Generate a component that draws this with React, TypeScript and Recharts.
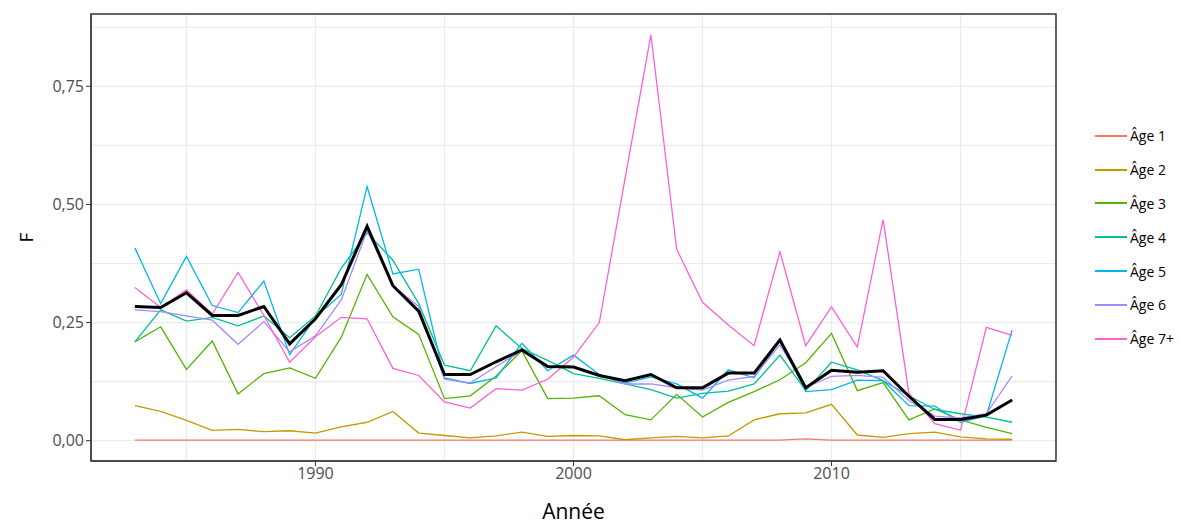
import { LineChart, Line, XAxis, YAxis, CartesianGrid, ReferenceArea } from 'recharts';

const years = [
  1983, 1984, 1985, 1986, 1987, 1988, 1989, 1990, 1991, 1992, 1993, 1994,
  1995, 1996, 1997, 1998, 1999, 2000, 2001, 2002, 2003, 2004, 2005, 2006,
  2007, 2008, 2009, 2010, 2011, 2012, 2013, 2014, 2015, 2016, 2017,
];

const age1 = [
  0.001, 0.001, 0.001, 0.001, 0.001, 0.001, 0.001, 0.001, 0.001, 0.001, 0.001, 0.001,
  0.001, 0.001, 0.001, 0.001, 0.001, 0.001, 0.001, 0.001, 0.001, 0.001, 0.001, 0.001,
  0.001, 0.001, 0.004, 0.001, 0.001, 0.001, 0.001, 0.001, 0.001, 0.001, 0.001,
];
const age2 = [
  0.074, 0.062, 0.043, 0.022, 0.024, 0.019, 0.021, 0.016, 0.029, 0.039, 0.062, 0.016,
  0.011, 0.006, 0.010, 0.018, 0.009, 0.011, 0.010, 0.002, 0.006, 0.009, 0.006, 0.010,
  0.044, 0.057, 0.059, 0.077, 0.012, 0.007, 0.015, 0.018, 0.008, 0.004, 0.003,
];
const age3 = [
  0.209, 0.241, 0.151, 0.211, 0.099, 0.142, 0.154, 0.132, 0.219, 0.352, 0.262, 0.225,
  0.089, 0.095, 0.137, 0.190, 0.089, 0.090, 0.095, 0.055, 0.044, 0.098, 0.050, 0.081,
  0.104, 0.129, 0.165, 0.227, 0.106, 0.123, 0.044, 0.067, 0.044, 0.028, 0.015,
];
const age4 = [
  0.209, 0.277, 0.253, 0.261, 0.243, 0.264, 0.218, 0.264, 0.365, 0.440, 0.382, 0.290,
  0.160, 0.148, 0.243, 0.195, 0.170, 0.142, 0.132, 0.120, 0.108, 0.090, 0.100, 0.105,
  0.120, 0.181, 0.106, 0.166, 0.150, 0.127, 0.095, 0.066, 0.057, 0.050, 0.039,
];
const age5 = [
  0.408, 0.290, 0.390, 0.286, 0.271, 0.338, 0.182, 0.261, 0.310, 0.538, 0.353, 0.363,
  0.133, 0.121, 0.133, 0.206, 0.148, 0.181, 0.140, 0.122, 0.135, 0.120, 0.090, 0.150,
  0.133, 0.212, 0.104, 0.108, 0.128, 0.127, 0.074, 0.073, 0.039, 0.053, 0.234,
];
const age6 = [
  0.277, 0.273, 0.264, 0.255, 0.204, 0.252, 0.188, 0.222, 0.298, 0.445, 0.328, 0.284,
  0.130, 0.122, 0.157, 0.190, 0.155, 0.156, 0.140, 0.120, 0.120, 0.112, 0.107, 0.128,
  0.136, 0.203, 0.113, 0.136, 0.138, 0.134, 0.085, 0.052, 0.048, 0.057, 0.137,
];
const age7 = [
  0.324, 0.282, 0.319, 0.268, 0.356, 0.265, 0.166, 0.220, 0.261, 0.258, 0.153, 0.138,
  0.082, 0.069, 0.110, 0.107, 0.130, 0.177, 0.250, 0.555, 0.859, 0.405, 0.293, 0.245,
  0.201, 0.400, 0.201, 0.283, 0.198, 0.468, 0.100, 0.036, 0.022, 0.240, 0.223,
];
const mean = [
  0.284, 0.282, 0.313, 0.265, 0.265, 0.284, 0.205, 0.258, 0.330, 0.454, 0.328, 0.274,
  0.140, 0.140, 0.167, 0.192, 0.157, 0.156, 0.138, 0.127, 0.140, 0.112, 0.112, 0.143,
  0.143, 0.213, 0.112, 0.149, 0.145, 0.148, 0.094, 0.045, 0.045, 0.054, 0.086,
];

const series = [
  { key: 'a1', name: 'Âge 1', color: '#F8766D', values: age1 },
  { key: 'a2', name: 'Âge 2', color: '#C49A00', values: age2 },
  { key: 'a3', name: 'Âge 3', color: '#53B400', values: age3 },
  { key: 'a4', name: 'Âge 4', color: '#00C094', values: age4 },
  { key: 'a5', name: 'Âge 5', color: '#00B6EB', values: age5 },
  { key: 'a6', name: 'Âge 6', color: '#A58AFF', values: age6 },
  { key: 'a7', name: 'Âge 7+', color: '#FB61D7', values: age7 },
];

const xTicks = [1990, 2000, 2010];
const yTicks = [0, 0.25, 0.5, 0.75];
const xGrid = [1985, 1990, 1995, 2000, 2005, 2010, 2015];
const yGrid = [0, 0.125, 0.25, 0.375, 0.5, 0.625, 0.75, 0.875];

const X_DOMAIN: [number, number] = [1981.3, 2018.7];
const Y_DOMAIN: [number, number] = [-0.043, 0.903];

const data = years.map((year, i) => {
  const row: Record<string, number> = { year, mean: mean[i] };
  series.forEach(s => { row[s.key] = s.values[i]; });
  return row;
});

const FONT = '"Open Sans", sans-serif';

function YTitle(props: any) {
  const { viewBox } = props;
  const cy = viewBox.y + viewBox.height / 2;
  return (
    <text x={33} y={cy} transform={`rotate(-90, 33, ${cy})`} textAnchor="middle"
      fontFamily={FONT} fontSize={19} fill="#000">F</text>
  );
}

export default function App() {
  return (
    <div style={{ position: 'absolute', left: 0, top: 0, width: 1180, height: 525, background: '#fff' }}>
      <LineChart width={1180} height={525} data={data} margin={{ top: 14, right: 124, bottom: 0, left: 0 }}>
        <CartesianGrid stroke="#ebebeb" strokeWidth={1.2}
          horizontalValues={yGrid} verticalValues={xGrid} />
        <XAxis dataKey="year" type="number" domain={X_DOMAIN} ticks={xTicks} allowDataOverflow
          height={64} tickSize={5} stroke="#333" tick={{ fill: '#4d4d4d', fontSize: 16, fontFamily: FONT }}
          label={{ value: 'Année', position: 'insideBottom', offset: 6, fill: '#000', fontSize: 21, fontFamily: FONT }} />
        <YAxis type="number" domain={Y_DOMAIN} ticks={yTicks} allowDataOverflow width={91}
          tickSize={5} stroke="#333" tickFormatter={(v: number) => v.toFixed(2).replace('.', ',')}
          tick={{ fill: '#4d4d4d', fontSize: 16, fontFamily: FONT }}
          label={<YTitle />} />
        {series.map(s => (
          <Line key={s.key} type="linear" dataKey={s.key} name={s.name} stroke={s.color}
            strokeWidth={1.3} dot={false} isAnimationActive={false} />
        ))}
        <Line type="linear" dataKey="mean" stroke="#000" strokeWidth={3} dot={false}
          isAnimationActive={false} />
        <ReferenceArea x1={X_DOMAIN[0]} x2={X_DOMAIN[1]} y1={Y_DOMAIN[0]} y2={Y_DOMAIN[1]}
          fill="none" stroke="#333" strokeWidth={1.5} ifOverflow="visible" />
      </LineChart>
      {/* legend */}
      <div style={{ position: 'absolute', left: 1095, top: 119, fontFamily: FONT, fontSize: 14, color: '#000' }}>
        {series.map(s => (
          <div key={s.key} style={{ display: 'flex', alignItems: 'center', height: 33.8 }}>
            <span style={{ display: 'inline-block', width: 32, height: 0, borderTop: `2px solid ${s.color}`, marginRight: 3 }} />
            <span>{s.name}</span>
          </div>
        ))}
      </div>
    </div>
  );
}
